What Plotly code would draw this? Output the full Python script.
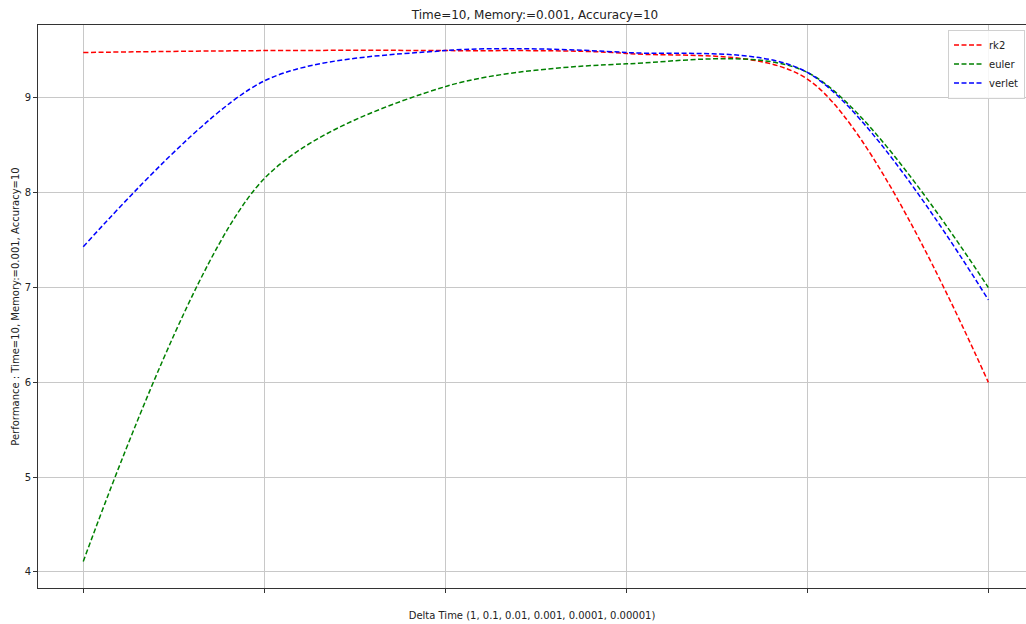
import plotly.graph_objects as go

# Step index for each delta time (1, 0.1, 0.01, 0.001, 0.0001, 0.00001)
steps = [0, 1, 2, 3, 4, 5]

rk2 = [9.48, 9.50, 9.50, 9.47, 9.20, 6.00]
euler = [4.11, 8.15, 9.12, 9.36, 9.27, 7.00]
verlet = [7.43, 9.18, 9.50, 9.48, 9.27, 6.87]

series = [("rk2", rk2, "#ff0000"), ("euler", euler, "#008000"), ("verlet", verlet, "#0000ff")]

y_ticks = [4, 5, 6, 7, 8, 9]

fig = go.Figure()
for name, vals, color in series:
    fig.add_trace(go.Scatter(
        x=steps, y=vals, name=name, mode="lines",
        line=dict(color=color, width=1.5, dash="5px,2.5px", shape="spline", smoothing=0.85),
    ))

font = "DejaVu Sans, sans-serif"
fig.update_layout(
    width=1026, height=624,
    margin=dict(l=38, r=0, t=25, b=36, autoexpand=False),
    paper_bgcolor="white", plot_bgcolor="white",
    font=dict(family=font, size=10, color="#222222"),
    title=dict(text="Time=10, Memory:=0.001, Accuracy=10", x=535 / 1026, xanchor="center",
               y=1 - 15 / 624, yanchor="middle", font=dict(size=12, color="#222222")),
    showlegend=True,
    legend=dict(x=0.999, xanchor="right", y=0.992, yanchor="top",
                bgcolor="rgba(255,255,255,0.85)", bordercolor="#d0d0d0", borderwidth=1,
                font=dict(size=10), tracegroupgap=0, itemwidth=30),
    xaxis=dict(
        range=[-0.25, 5.208], tickvals=steps, ticktext=[""] * len(steps),
        showgrid=True, gridcolor="#c8c8c8", gridwidth=1, zeroline=False,
        showline=True, linecolor="#333333", linewidth=1, mirror=True,
        ticks="outside", ticklen=4, tickcolor="#333333",
        title=dict(text="Delta Time (1, 0.1, 0.01, 0.001, 0.0001, 0.00001)", standoff=17,
                   font=dict(size=10)),
    ),
    yaxis=dict(
        range=[3.83, 9.77], tickvals=y_ticks, ticktext=[str(v) for v in y_ticks],
        showgrid=True, gridcolor="#c8c8c8", gridwidth=1, zeroline=False,
        showline=True, linecolor="#333333", linewidth=1,
        ticks="outside", ticklen=4, tickcolor="#333333",
        title=dict(text="Performance : Time=10, Memory:=0.001, Accuracy=10", standoff=3,
                   font=dict(size=10)),
    ),
)

fig.write_html("out.html")
